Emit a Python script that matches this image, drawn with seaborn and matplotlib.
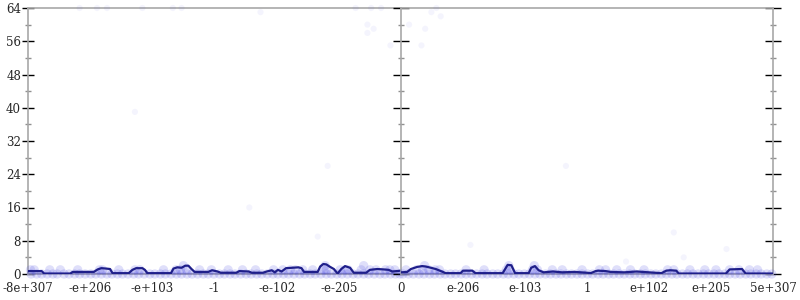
import matplotlib
matplotlib.use("Agg")
import matplotlib.pyplot as plt
from matplotlib.ticker import MultipleLocator
import seaborn as sns
import pandas as pd

# ---------------- data ----------------
y_ticks = [0, 8, 16, 24, 32, 40, 48, 56, 64]
left_tick_labels = ["-8e+307", "-e+206", "-e+103", "-1", "-e-102", "-e-205", "0"]
right_tick_labels = ["", "e-206", "e-103", "1", "e+102", "e+205", "5e+307"]

# smoothed line (x in tick-interval units, 0..6 per panel)
left_line_x = [0.00, 0.22, 0.26, 0.68, 0.72, 1.06, 1.12, 1.18, 1.26, 1.32, 1.36, 1.62, 1.68,
               1.74, 1.84, 1.88, 1.92, 2.30, 2.34, 2.40, 2.47, 2.53, 2.58, 2.63, 2.68, 2.90,
               2.96, 3.05, 3.10, 3.35, 3.40, 3.55, 3.60, 3.78, 3.84, 3.92, 3.97, 4.02, 4.08,
               4.15, 4.25, 4.35, 4.40, 4.44, 4.66, 4.70, 4.75, 4.80, 4.85, 4.92, 4.98, 5.04,
               5.10, 5.18, 5.24, 5.44, 5.50, 5.62, 5.72, 5.80, 5.86, 6.00]
left_line_y = [0.7, 0.7, 0.1, 0.1, 0.5, 0.5, 1.1, 1.4, 1.3, 1.2, 0.2, 0.2, 1.0,
               1.4, 1.4, 1.0, 0.2, 0.2, 1.3, 1.6, 1.5, 2.0, 2.0, 1.2, 0.5, 0.5,
               0.9, 0.6, 0.3, 0.3, 0.7, 0.6, 0.3, 0.3, 0.6, 0.9, 0.4, 1.0, 0.6,
               1.4, 1.5, 1.6, 1.4, 0.5, 0.5, 1.8, 2.4, 2.3, 1.8, 1.2, 0.1, 1.2,
               1.9, 1.5, 0.3, 0.3, 1.0, 1.2, 1.1, 1.0, 0.6, 0.8]

right_line_x = [0.00, 0.10, 0.16, 0.26, 0.34, 0.40, 0.48, 0.56, 0.66, 0.72, 0.96, 1.00, 1.04,
                1.15, 1.20, 1.64, 1.68, 1.72, 1.78, 1.84, 2.06, 2.10, 2.16, 2.22, 2.30,
                2.45, 2.60, 2.80, 3.00, 3.06, 3.14, 3.18, 3.30, 3.38, 3.60, 3.80, 4.00,
                4.20, 4.28, 4.34, 4.44, 4.48, 5.24, 5.30, 5.50, 5.56, 6.00]
right_line_y = [0.4, 0.5, 1.2, 1.7, 1.9, 1.8, 1.5, 1.2, 0.6, 0.2, 0.2, 0.8, 0.8,
                0.8, 0.2, 0.2, 1.2, 2.2, 2.1, 0.2, 0.2, 1.5, 1.9, 0.9, 0.4,
                0.6, 0.4, 0.5, 0.3, 0.2, 0.7, 0.8, 0.7, 0.5, 0.4, 0.6, 0.4,
                0.2, 0.8, 0.9, 0.8, 0.1, 0.1, 1.1, 1.2, 0.1, 0.1]

# raw sample points (faint dots)
left_pts_x = [0.05, 0.14, 0.22, 0.31, 0.40, 0.47, 0.58, 0.66, 0.75, 0.83, 0.92, 1.01,
              1.09, 1.18, 1.27, 1.35, 1.44, 1.52, 1.61, 1.70, 1.78, 1.87, 1.96, 2.04,
              2.13, 2.21, 2.30, 2.39, 2.47, 2.56, 2.64, 2.73, 2.82, 2.90, 2.99, 3.08,
              3.16, 3.25, 3.33, 3.42, 3.51, 3.59, 3.68, 3.76, 3.85, 3.94, 4.02, 4.11,
              4.19, 4.28, 4.37, 4.45, 4.54, 4.62, 4.71, 4.80, 4.88, 4.97, 5.05, 5.14,
              5.23, 5.31, 5.40, 5.48, 5.57, 5.66, 5.74, 5.83, 5.91, 5.98,
              0.10, 0.35, 0.80, 1.15, 1.20, 1.72, 1.80, 2.38, 2.45, 2.55, 2.95, 3.45,
              3.95, 4.10, 4.30, 4.42, 4.76, 4.80, 5.10, 5.15, 5.50, 5.60, 5.75, 5.90,
              0.04, 0.52, 1.46, 2.18, 2.76, 3.22, 3.66, 4.22, 4.58, 5.02, 5.36, 5.82,
              2.50, 4.78, 5.40,
              0.83, 1.11, 1.27, 1.84, 2.33, 2.47, 1.72, 3.56, 4.82, 3.74, 4.66, 5.27, 5.52,
              5.46, 5.68, 5.56, 5.83, 5.46]
left_pts_y = [0] * 70 + [1] * 36 + [2, 2, 2] + \
             [64, 64, 64, 64, 64, 64, 39, 16, 26, 63, 9, 64, 64, 58, 64, 59, 55, 60]

right_pts_x = [0.03, 0.12, 0.20, 0.29, 0.37, 0.46, 0.54, 0.63, 0.71, 0.80, 0.88, 0.97,
               1.05, 1.14, 1.22, 1.31, 1.39, 1.48, 1.56, 1.65, 1.73, 1.82, 1.90, 1.99,
               2.07, 2.16, 2.24, 2.33, 2.41, 2.50, 2.58, 2.67, 2.75, 2.84, 2.92, 3.01,
               3.09, 3.18, 3.26, 3.35, 3.43, 3.52, 3.60, 3.69, 3.77, 3.86, 3.94, 4.03,
               4.11, 4.20, 4.28, 4.37, 4.45, 4.54, 4.62, 4.71, 4.79, 4.88, 4.96, 5.05,
               5.13, 5.22, 5.30, 5.39, 5.47, 5.56, 5.64, 5.73, 5.81, 5.90, 5.98,
               0.25, 0.35, 0.45, 0.55, 1.05, 1.70, 1.76, 2.12, 2.20, 2.60, 3.20, 3.30,
               3.70, 4.30, 4.40, 4.90, 5.30, 5.45, 5.75,
               0.08, 0.62, 1.34, 2.44, 2.92, 3.48, 3.92, 4.66, 5.08, 5.62,
               0.38, 1.74, 2.15,
               0.13, 0.39, 0.57, 0.49, 0.64, 0.33, 1.12, 4.40, 3.63, 2.66, 4.56, 5.25]
right_pts_y = [0] * 71 + [1] * 29 + [2, 2, 2] + \
              [60, 59, 64, 63, 62, 55, 7, 10, 3, 26, 4, 6]


def make_df(xs, ys):
    return pd.DataFrame({"x": xs, "y": ys})


# ---------------- style ----------------
sns.set_style("white")
plt.rcParams["font.family"] = ["DejaVu Serif"]

fig = plt.figure(figsize=(8, 3), dpi=100)
x0, xm, x1 = 28 / 800, 401 / 800, 773 / 800
y0, y1 = 1 - 274 / 300, 1 - 8 / 300
axL = fig.add_axes([x0, y0, xm - x0, y1 - y0])
axR = fig.add_axes([xm, y0, x1 - xm, y1 - y0], sharey=axL)

dot_color = "#3a3ae0"
line_color = "#1f1f8a"
frame_color = "#a8a8a8"

for ax, px, py, lx, ly in [
    (axL, left_pts_x, left_pts_y, left_line_x, left_line_y),
    (axR, right_pts_x, right_pts_y, right_line_x, right_line_y),
]:
    df = make_df(px, py)
    low = df[df["y"] <= 2]
    high = df[df["y"] > 2]
    sns.scatterplot(data=low, x="x", y="y", ax=ax, s=45,
                    color=dot_color, alpha=0.16, edgecolor="none", zorder=3,
                    clip_on=False, legend=False)
    sns.scatterplot(data=high, x="x", y="y", ax=ax, s=20,
                    color=dot_color, alpha=0.05, edgecolor="none", zorder=3,
                    clip_on=False, legend=False)
    sns.lineplot(data=make_df(lx, ly), x="x", y="y", ax=ax, color=line_color,
                 linewidth=1.6, zorder=4, estimator=None, sort=False, legend=False)
    ax.set_xlim(0, 6)
    ax.set_ylim(0, 64)
    ax.set_xlabel("")
    ax.set_ylabel("")
    for sp in ax.spines.values():
        sp.set_color(frame_color)
        sp.set_linewidth(1.2)
    ax.set_xticks(range(7))
    ax.tick_params(axis="x", direction="inout", length=7, width=1, color="black",
                   labelsize=8.5, pad=2)
    ax.yaxis.set_major_locator(MultipleLocator(8))
    ax.yaxis.set_minor_locator(MultipleLocator(4))

# baseline band at zero (dense zero counts)
for ax in (axL, axR):
    ax.axhline(0, color=dot_color, alpha=0.7, linewidth=2.4, zorder=2)

axL.set_xticklabels(left_tick_labels)
axR.set_xticklabels(right_tick_labels)

axL.set_yticks(y_ticks)
axL.spines["right"].set_visible(False)
axL.tick_params(axis="y", which="major", direction="inout", length=8, width=1,
                color="black", labelsize=8.5, pad=1, left=True, right=False)
axL.tick_params(axis="y", which="minor", direction="inout", length=5, width=1,
                color="#909090", left=True, right=False)

axR.tick_params(axis="y", which="major", direction="inout", length=11, width=1,
                color="black", left=True, right=True, labelleft=False, labelright=False)
axR.tick_params(axis="y", which="minor", direction="inout", length=5, width=1,
                color="#909090", left=True, right=True)

fig.savefig("out.png", dpi=100)
